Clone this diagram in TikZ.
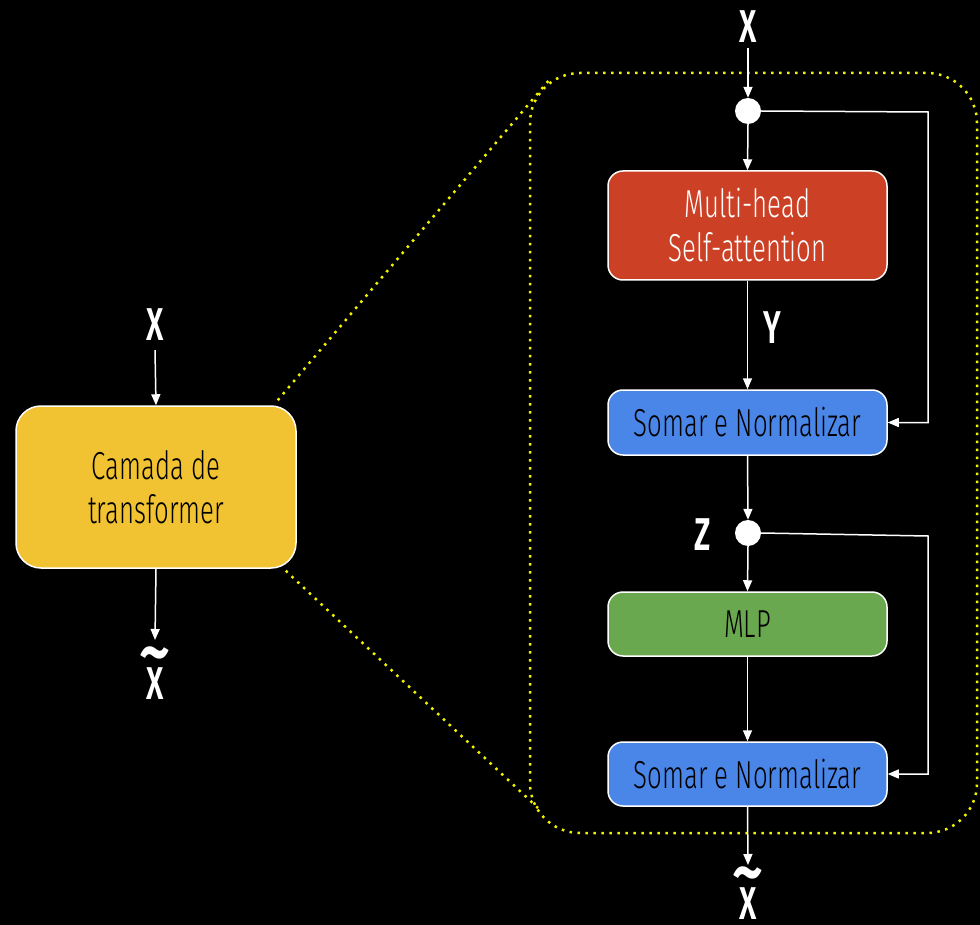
\documentclass[tikz,border=0pt]{standalone}
\usepackage{fontspec}
\setmainfont{Fira Sans Light}[FakeStretch=0.66, BoldFont={Fira Sans SemiBold}, BoldFeatures={FakeStretch=0.66}]
\usetikzlibrary{arrows.meta}
\definecolor{cred}{HTML}{CC4125}
\definecolor{cblue}{HTML}{4A86E8}
\definecolor{cgreen}{HTML}{6AA84F}
\definecolor{cyel}{HTML}{F1C232}
\definecolor{cdot}{HTML}{F2F200}
\tikzset{
  blk/.style={draw=white, line width=1.5pt, rounded corners=15pt, minimum width=279pt, inner sep=0pt, align=center, font=\fontsize{39}{44}\selectfont},
  lbl/.style={text=white, inner sep=0pt, font=\fontsize{46}{50}\selectfont\bfseries},
  tlbl/.style={lbl, anchor=south, text depth=0pt},
  conn/.style={draw=white, line width=1.5pt},
  arr/.style={conn, -{Triangle[length=11pt,width=9pt]}},
  junc/.style={circle, fill=white, draw=none, minimum size=26pt, inner sep=0pt},
  dotl/.style={draw=cdot, line width=2.5pt, dash pattern=on 2.5pt off 5.5pt}
}
\newcommand{\tildeX}{\ooalign{\hfil X\hfil\cr\hfil\raisebox{23pt}{\scalebox{2}[1.6]{\char"7E}}\hfil\cr}}
\begin{document}
\begin{tikzpicture}[x=1pt,y=-1pt]
\fill[black] (0,0) rectangle (980,925);
\useasboundingbox (0,0) rectangle (980,925);
% dotted zoom frame
\draw[dotl, rounded corners=50pt] (530,73) rectangle (977,833);
\coordinate (ztop) at (550,79);
\coordinate (zbot) at (538,808);
% left block
\node[blk, fill=cyel, text=black, minimum width=280pt, minimum height=162pt, rounded corners=25pt] (lbox) at (156,487) {Camada de\\transformer};
\draw[dotl] (lbox.north east) ++(-19,-5) -- (ztop);
\draw[dotl] (lbox.south east) ++(-11,2) -- (zbot);
\node[lbl] (xl) at (155,325) {X};
\node[tlbl] (xlo) at (155,700) {\tildeX};
\draw[arr] ([yshift=-9pt]xl.south) -- (lbox.north);
\draw[arr] (lbox.south) -- ([yshift=60pt]xlo.south);
% right blocks
\node[lbl] (xin) at (748,27) {X};
\node[junc] (c1) at (748,111) {};
\node[blk, fill=cred, text=white, minimum height=109pt] (mh) at (747.5,225.5) {Multi-head\\Self-attention};
\node[blk, fill=cblue, text=black, minimum height=65pt] (s1) at (747.5,422.5) {Somar e Normalizar};
\node[junc] (c2) at (748,533) {};
\node[blk, fill=cgreen, text=black, minimum height=64pt] (mlp) at (747.5,624) {MLP};
\node[blk, fill=cblue, text=black, minimum height=64pt] (s2) at (747.5,774) {Somar e Normalizar};
\node[tlbl] (xout) at (748,920) {\tildeX};
\node[lbl] (ylab) at (772,328) {Y};
\node[lbl] (zlab) at (703,535) {Z};
\coordinate (r1) at (928,112);
\coordinate (r2) at (928,536);
\draw[arr] ([yshift=-5pt]xin.south) -- (c1.north);
\draw[arr] (c1.south) -- (mh.north);
\draw[arr] (mh.south) -- (s1.north);
\draw[arr] (c1.east) -- (r1) |- (s1.east);
\draw[arr] (s1.south) -- (c2.north);
\draw[arr] (c2.south) -- (mlp.north);
\draw[arr] (c2.east) -- (r2) |- (s2.east);
\draw[arr] (mlp.south) -- (s2.north);
\draw[arr] (s2.south) -- ([yshift=55pt]xout.south);
\end{tikzpicture}
\end{document}
